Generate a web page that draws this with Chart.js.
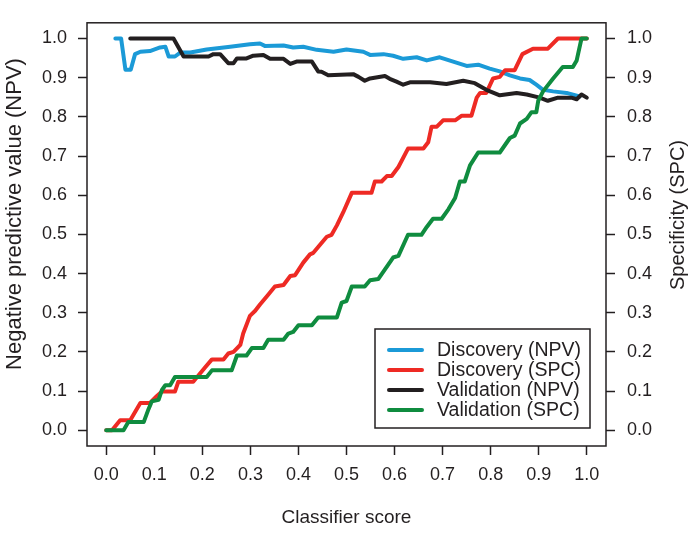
<!DOCTYPE html>
<html><head><meta charset="utf-8">
<script src="https://cdn.jsdelivr.net/npm/chart.js@4/dist/chart.umd.min.js"></script>
<style>html,body{margin:0;padding:0;background:#fff}#wrap{width:696px;height:533px}</style>
</head><body><div id="wrap"><canvas id="c" width="696" height="533"></canvas></div>
<script>
const tickVals = [0,0.1,0.2,0.3,0.4,0.5,0.6,0.7,0.8,0.9,1.0];
const tickLabels = ['0.0','0.1','0.2','0.3','0.4','0.5','0.6','0.7','0.8','0.9','1.0'];
const xTitle = 'Classifier score';
const yTitle = 'Negative predictive value (NPV)';
const y2Title = 'Specificity (SPC)';
const seriesNames = ['Discovery (NPV)','Discovery (SPC)','Validation (NPV)','Validation (SPC)'];
const seriesColors = ['#1b9ad7','#ee2a24','#231f20','#0f8c3f'];

const discNpvX = [0.019,0.031,0.04,0.051,0.06,0.071,0.091,0.112,0.123,0.13,0.143,0.154,0.175,0.209,0.258,0.299,0.32,0.33,0.369,0.389,0.41,0.438,0.473,0.5,0.535,0.549,0.577,0.597,0.618,0.646,0.667,0.694,0.722,0.75,0.774,0.798,0.819,0.84,0.861,0.881,0.895,0.909,0.93,0.958,0.985];
const discNpvY = [1.0,1.0,0.92,0.92,0.96,0.966,0.968,0.977,0.979,0.954,0.954,0.964,0.964,0.972,0.979,0.985,0.987,0.981,0.982,0.977,0.979,0.971,0.966,0.972,0.966,0.958,0.96,0.956,0.948,0.952,0.944,0.952,0.941,0.93,0.933,0.923,0.916,0.906,0.898,0.894,0.882,0.869,0.865,0.861,0.852];

const discSpcX = [0.0,0.012,0.029,0.05,0.071,0.091,0.105,0.116,0.143,0.15,0.181,0.206,0.22,0.244,0.254,0.265,0.279,0.285,0.299,0.31,0.32,0.337,0.351,0.369,0.383,0.393,0.41,0.424,0.431,0.448,0.459,0.469,0.48,0.493,0.511,0.552,0.559,0.573,0.584,0.594,0.608,0.628,0.66,0.67,0.677,0.688,0.701,0.726,0.74,0.76,0.771,0.778,0.791,0.805,0.819,0.83,0.85,0.866,0.888,0.919,0.94,1.0];
const discSpcY = [0.0,0.0,0.026,0.026,0.07,0.07,0.087,0.099,0.099,0.124,0.124,0.161,0.181,0.181,0.196,0.2,0.218,0.247,0.292,0.305,0.321,0.346,0.367,0.371,0.394,0.396,0.428,0.449,0.453,0.478,0.494,0.499,0.523,0.556,0.606,0.606,0.635,0.635,0.649,0.649,0.672,0.719,0.719,0.735,0.775,0.775,0.791,0.791,0.803,0.803,0.849,0.861,0.861,0.898,0.902,0.919,0.919,0.96,0.974,0.974,1.0,1.0];

const valNpvX = [0.05,0.14,0.161,0.213,0.223,0.237,0.254,0.265,0.272,0.292,0.306,0.327,0.341,0.369,0.383,0.396,0.428,0.441,0.448,0.462,0.514,0.525,0.538,0.549,0.58,0.59,0.604,0.618,0.632,0.674,0.708,0.743,0.767,0.791,0.819,0.854,0.875,0.902,0.919,0.94,0.968,0.979,0.989,1.0];
const valNpvY = [1.0,1.0,0.954,0.954,0.96,0.96,0.937,0.937,0.949,0.949,0.956,0.958,0.948,0.948,0.935,0.941,0.941,0.916,0.915,0.906,0.909,0.902,0.892,0.898,0.904,0.897,0.89,0.882,0.888,0.888,0.884,0.892,0.886,0.869,0.855,0.861,0.857,0.849,0.841,0.849,0.849,0.845,0.857,0.849];

const valSpcX = [0.0,0.036,0.046,0.078,0.088,0.095,0.109,0.116,0.123,0.133,0.143,0.209,0.22,0.261,0.272,0.292,0.303,0.327,0.337,0.369,0.379,0.389,0.4,0.428,0.441,0.48,0.49,0.5,0.511,0.538,0.549,0.566,0.597,0.608,0.628,0.656,0.667,0.68,0.698,0.712,0.726,0.736,0.746,0.757,0.774,0.819,0.84,0.85,0.861,0.875,0.885,0.895,0.899,0.909,0.93,0.95,0.971,0.979,0.989,1.0];
const valSpcY = [0.0,0.0,0.021,0.021,0.054,0.074,0.078,0.103,0.115,0.115,0.136,0.136,0.153,0.153,0.191,0.191,0.21,0.21,0.231,0.231,0.247,0.251,0.268,0.268,0.288,0.288,0.326,0.33,0.367,0.367,0.383,0.386,0.441,0.445,0.499,0.499,0.519,0.54,0.54,0.564,0.593,0.635,0.635,0.676,0.709,0.709,0.746,0.752,0.783,0.795,0.812,0.812,0.841,0.865,0.898,0.927,0.927,0.944,1.0,1.0];

const FONT = '"Liberation Sans", Arial, Helvetica, sans-serif';
const INK = '#231f20';

function pts(xs, ys){ return xs.map((x,i)=>({x:x, y:ys[i]})); }
function ds(i, xs, ys, axis, order){
  return {label: seriesNames[i], data: pts(xs, ys), yAxisID: axis, borderColor: seriesColors[i],
    backgroundColor: seriesColors[i], borderWidth: 4, pointRadius: 0, tension: 0, fill: false,
    borderCapStyle: 'round', borderJoinStyle: 'round', order: order};
}
function setTicks(scale){ scale.ticks = tickVals.map(v=>({value:v})); }

const decor = {
  id: 'decor',
  afterDraw(chart){
    const ctx = chart.ctx, a = chart.chartArea;
    ctx.save();
    ctx.strokeStyle = INK; ctx.lineWidth = 1.5;
    ctx.strokeRect(a.left, a.top, a.right - a.left, a.bottom - a.top);
    ctx.fillStyle = INK;
    ctx.textAlign = 'center'; ctx.textBaseline = 'middle';
    ctx.font = '19px ' + FONT;
    ctx.fillText(xTitle, (a.left + a.right) / 2, 518);
    ctx.save(); ctx.font = '22px ' + FONT; ctx.translate(15, 214); ctx.rotate(-Math.PI / 2);
    ctx.fillText(yTitle, 0, 0); ctx.restore();
    ctx.save(); ctx.font = '20px ' + FONT; ctx.translate(678, 215); ctx.rotate(-Math.PI / 2);
    ctx.fillText(y2Title, 0, 0); ctx.restore();
    // legend
    const lx = 375, ly = 329, lw = 215, lh = 99;
    ctx.fillStyle = '#fff'; ctx.fillRect(lx, ly, lw, lh);
    ctx.lineWidth = 1.5; ctx.strokeStyle = INK; ctx.strokeRect(lx, ly, lw, lh);
    ctx.font = '19.5px ' + FONT; ctx.textAlign = 'left'; ctx.textBaseline = 'middle';
    seriesNames.forEach((n, i) => {
      const y = 350 + i * 20;
      ctx.strokeStyle = seriesColors[i]; ctx.lineWidth = 4; ctx.lineCap = 'round';
      ctx.beginPath(); ctx.moveTo(389, y); ctx.lineTo(422, y); ctx.stroke();
      ctx.fillStyle = INK; ctx.fillText(n, 437, y + 1);
    });
    ctx.restore();
  }
};

const tickFont = {family: FONT, size: 18};
const gridCfg = {drawOnChartArea: false, drawTicks: true, tickLength: 9, tickWidth: 1.5, tickColor: INK, color: INK};

new Chart(document.getElementById('c'), {
  type: 'line',
  data: { datasets: [
    ds(0, discNpvX, discNpvY, 'y', 4),
    ds(1, discSpcX, discSpcY, 'y2', 3),
    ds(2, valNpvX, valNpvY, 'y', 2),
    ds(3, valSpcX, valSpcY, 'y2', 1)
  ]},
  options: {
    responsive: false, devicePixelRatio: 1, animation: false,
    layout: {padding: {top: 10, left: 0, right: 0, bottom: 0}},
    plugins: {legend: {display: false}, tooltip: {enabled: false}},
    scales: {
      x: {type: 'linear', position: 'bottom', min: -0.04, max: 1.04,
        afterBuildTicks: setTicks, afterFit: s => { s.height = 87; },
        grid: gridCfg, border: {display: false},
        ticks: {font: tickFont, color: INK, padding: 9, autoSkip: false, maxRotation: 0,
          callback: (v, i) => tickLabels[i]}},
      y: {type: 'linear', position: 'left', min: -0.04, max: 1.04,
        afterBuildTicks: setTicks, afterFit: s => { s.width = 87; },
        grid: gridCfg, border: {display: false},
        ticks: {font: tickFont, color: INK, padding: 11, autoSkip: false,
          callback: (v, i) => tickLabels[i]}},
      y2: {type: 'linear', position: 'right', min: -0.04, max: 1.04,
        afterBuildTicks: setTicks, afterFit: s => { s.width = 90; },
        grid: gridCfg, border: {display: false},
        ticks: {font: tickFont, color: INK, padding: 12, autoSkip: false,
          callback: (v, i) => tickLabels[i]}}
    }
  },
  plugins: [decor]
});
</script></body></html>
